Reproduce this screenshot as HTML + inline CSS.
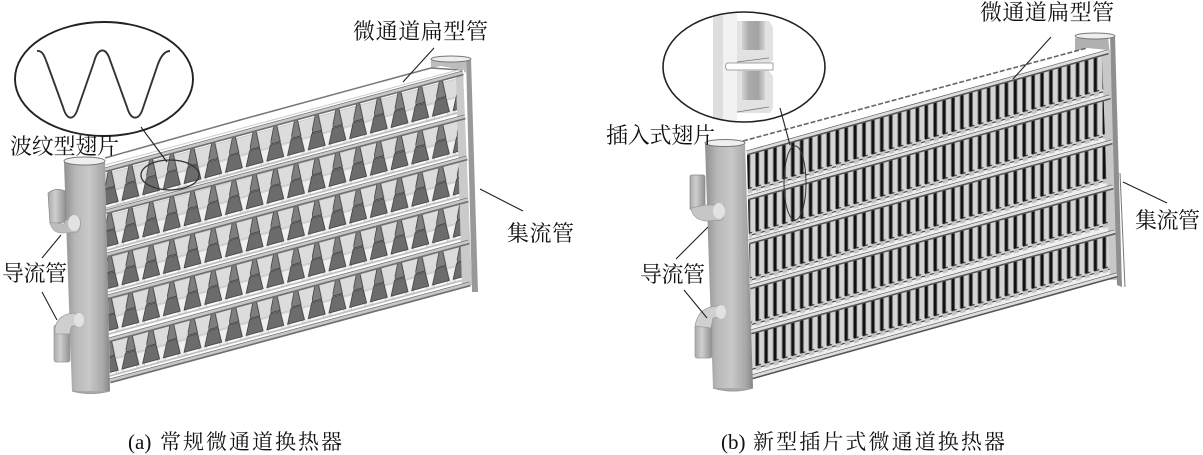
<!DOCTYPE html>
<html lang="zh"><head><meta charset="utf-8"><title>微通道换热器</title>
<style>html,body{margin:0;padding:0;background:#fff;width:1203px;height:455px;overflow:hidden}svg{display:block}text{font-family:"Liberation Serif","Noto Serif CJK SC",serif;fill:#111;font-size:22px}</style></head>
<body>
<svg width="1203" height="455" viewBox="0 0 1203 455" xmlns="http://www.w3.org/2000/svg">
<defs>
<linearGradient id="tube" x1="0" x2="1" y1="0" y2="0"><stop offset="0" stop-color="#8f8f8f"/><stop offset=".25" stop-color="#b8b8b8"/><stop offset=".55" stop-color="#c8c8c8"/><stop offset=".85" stop-color="#a8a8a8"/><stop offset="1" stop-color="#858585"/></linearGradient>
<linearGradient id="stub" x1="0" x2="1" y1="0" y2="0"><stop offset="0" stop-color="#aaa"/><stop offset=".4" stop-color="#cfcfcf"/><stop offset="1" stop-color="#8f8f8f"/></linearGradient>
<linearGradient id="grill" x1="0" x2="1" y1="0" y2="0"><stop offset="0" stop-color="#d4d4d4"/><stop offset=".3" stop-color="#aaa"/><stop offset=".7" stop-color="#a4a4a4"/><stop offset="1" stop-color="#d4d4d4"/></linearGradient>
<pattern id="finA" patternUnits="userSpaceOnUse" width="20.7" height="42.2" patternTransform="matrix(1,-.271,0,1,105,170)">
<rect width="20.7" height="42.2" fill="#fff"/>
<polygon points="5.5,4 24.500,4 21,22 9,22" fill="#dcdcdc" stroke="#999" stroke-width=".4"/>
<polygon points="9,23 21,23 18.500,39 11.500,39" fill="#efefef" stroke="#999" stroke-width=".4"/>
<polygon points="-15.2,4 3.8,4 .3,22 -11.700,22" fill="#dcdcdc" stroke="#999" stroke-width=".4"/>
<polygon points="-11.700,23 .3,23 -2.200,39 -9.200,39" fill="#efefef" stroke="#999" stroke-width=".4"/>
<polygon points="3.200,2 6.200,2 9.700,19 -.3,19" fill="#7e7e7e" stroke="#333" stroke-width=".7"/>
<polygon points="-.3,20 9.700,20 13.200,35 -3.800,35" fill="#6c6c6c" stroke="#333" stroke-width=".7"/>
<polygon points="20.400,20 30.400,20 33.900,35 16.900,35" fill="#6c6c6c" stroke="#333" stroke-width=".7"/>
<rect x="0" y="37.500" width="20.700" height="1.800" fill="#bdbdbd"/>
</pattern>
<pattern id="finB" patternUnits="userSpaceOnUse" width="8.9" height="44.8" patternTransform="matrix(1,-.28,0,1,747,153)">
<rect width="8.9" height="44.800" fill="#efefef"/>
<rect x="0" y="2" width="2.700" height="34" fill="#111"/>
<rect x="2.700" y="2" width=".8" height="35" fill="#666"/>
<rect x="3.500" y="2" width="4.500" height="36" fill="#d4d4d4"/>
<rect x="8" y="2" width=".9" height="34" fill="#777"/>
<rect x="0" y="36" width="5" height="5" fill="#c4c4c4"/>
<rect x="0" y="35.500" width="5" height="1" fill="#222"/>
<rect x="5" y="38" width="3.900" height="1" fill="#222"/>
</pattern>
<clipPath id="cb"><ellipse cx="744" cy="67" rx="81" ry="55"/></clipPath>
</defs>

<!-- (a) exchanger -->
<polygon points="431,58 466,58 466,72 431,82" fill="#bdbdbd"/>
<polygon points="106,160 440,66 464,70 464,73 106,170" fill="#fff"/>
<path d="M105,158L240,120L405,75L431,68L462,70" fill="none" stroke="#777" stroke-width="1.500"/>
<path d="M105,165L462,69" fill="none" stroke="#ccc" stroke-width="1"/>
<polygon points="105,170 463,73 470,284 110,381" fill="url(#finA)"/>
<polygon points="456,78 463,70 472,285 462,287" fill="#cacaca"/>
<polygon points="466,58 471,58 478,292 472,292" fill="#999"/>
<ellipse cx="451" cy="59" rx="20" ry="3" fill="#eee" stroke="#777"/>
<path d="M105,170L463,73M106,212L465,117M107,255L467,158M108,297L468,200M109,340L469,242M110,381L470,284" stroke="#707070" stroke-width="5" fill="none"/>
<path d="M105,169.500L463,72.500M106,211.500L465,116.500M107,254.500L467,157.500M108,296.500L468,199.500M109,339.500L469,241.500M110,380.500L470,283.500" stroke="#c8c8c8" stroke-width="2.600" fill="none"/>

<polygon points="64,162 105,162 110,391 72,391" fill="url(#tube)"/>
<path d="M72,391Q90,396 110,391" fill="#aaa" stroke="#999"/>
<ellipse cx="84.500" cy="161" rx="20.500" ry="4" fill="#efefef" stroke="#777"/>
<!-- a stubs -->
<path d="M48,193Q56,187 65,191L66,222L50,224Z" fill="url(#stub)" stroke="#888" stroke-width=".7"/>
<path d="M50,222Q52,234 64,233L78,232Q82,226 80,219L66,220L64,224Z" fill="#bdbdbd" stroke="#999" stroke-width=".6"/>
<ellipse cx="74" cy="223" rx="6" ry="8" fill="#e2e2e2"/>
<rect x="54" y="325" width="16" height="37" rx="2" fill="url(#stub)" stroke="#999" stroke-width=".7"/>
<path d="M55,328Q58,314 74,313L82,317L81,326L72,326Q70,330 70,334L55,334Z" fill="#cfcfcf" stroke="#999" stroke-width=".7"/>
<ellipse cx="79" cy="320" rx="5" ry="7" fill="#e2e2e2"/>

<!-- a callout -->
<ellipse cx="104" cy="79" rx="89" ry="57" fill="#fff" stroke="#222" stroke-width="1.900"/>
<path d="M37,51C43,50 45,58 47,63L63,107C67,121 74,121 78,108L94,62C98,47 106,47 110,60L127,107C131,121 139,121 143,108L158,64C161,56 165,51 170,51" fill="none" stroke="#333" stroke-width="1.900"/>
<ellipse cx="170" cy="175" rx="29" ry="15" fill="none" stroke="#333" stroke-width="1.300"/>
<g stroke="#222" stroke-width="1.100" fill="none">
<path d="M141,127L167,162M434,48L403,82M480,189L523,211M61,235L42,258M42,292L57,320"/>
</g>

<!-- (b) exchanger -->
<polygon points="1075,38 1108,36 1110,56 1075,64" fill="#b0b0b0"/>
<polygon points="745,142 1087,48 1108,50 1108,52 747,153" fill="#fff"/>
<path d="M743,141L1087,48" fill="none" stroke="#666" stroke-width="1.600" stroke-dasharray="5 2"/>
<polygon points="747,153 1108,52 1117,275 752,377" fill="url(#finB)"/>
<polygon points="1102,55 1110,50 1120,280 1110,280" fill="#c8c8c8"/>
<polygon points="1110,36 1115,36 1122,287 1117,285" fill="#8f8f8f"/>
<path d="M1120,173L1125,287" stroke="#777" stroke-width="1"/>
<ellipse cx="1095" cy="36" rx="20" ry="3" fill="#eee" stroke="#777"/>
<path d="M747,153L1108,52M748,198L1110,97M749,242L1112,142M750,287L1113,187M751,332L1115,232M752,377L1117,275" stroke="#555" stroke-width="5" fill="none"/>
<path d="M747,152.500L1108,51.500M748,197.500L1110,96.500M749,241.500L1112,141.500M750,286.500L1113,186.500M751,331.500L1115,231.500M752,376.500L1117,274.500" stroke="#ddd" stroke-width="2.800" fill="none"/>

<polygon points="705,143 745,143 753,388 713,388" fill="url(#tube)"/>
<path d="M713,388Q733,394 753,388" fill="#aaa" stroke="#999"/>
<ellipse cx="725" cy="143" rx="20" ry="3.500" fill="#efefef" stroke="#777"/>
<!-- b stubs -->
<rect x="690" y="175" width="15" height="35" rx="2" fill="url(#stub)" stroke="#888" stroke-width=".7"/>
<path d="M691,208Q693,220 706,221L722,220L724,205L705,205Z" fill="#c6c6c6" stroke="#999" stroke-width=".7"/>
<ellipse cx="719" cy="211" rx="6" ry="8" fill="#e2e2e2"/>
<rect x="695" y="325" width="17" height="33" rx="2" fill="url(#stub)" stroke="#999" stroke-width=".7"/>
<path d="M695,326Q698,309 712,307L722,305L724,316L713,318L711,328Z" fill="#d0d0d0" stroke="#999" stroke-width=".7"/>
<ellipse cx="721" cy="312" rx="5" ry="7" fill="#e2e2e2"/>

<!-- b callout -->
<ellipse cx="744" cy="67" rx="81" ry="55" fill="#fff"/>
<g clip-path="url(#cb)">
<rect x="713" y="10" width="10" height="115" fill="#dedede"/>
<rect x="723" y="10" width="14" height="115" fill="#f2f2f2"/>
<path d="M737,21H769L773,27V60L770,63H737Z" fill="#e2e2e2"/>
<path d="M737,70H768L773,76V108L770,113H737Z" fill="#e2e2e2"/>
<rect x="742" y="21" width="23" height="29" fill="url(#grill)"/>
<rect x="742" y="71" width="23" height="29" fill="url(#grill)"/>
<path d="M727,63H773V70H727Q724,66.500 727,63Z" fill="#fff" stroke="#888" stroke-width=".8"/>
<path d="M737,62L769,58M737,112L769,107" stroke="#777" stroke-width=".8"/>
</g>
<ellipse cx="744" cy="67" rx="81" ry="55" fill="none" stroke="#222" stroke-width="1.600"/>
<ellipse cx="795" cy="183" rx="11" ry="37" fill="none" stroke="#333" stroke-width="1"/>
<g stroke="#222" stroke-width="1.100" fill="none">
<path d="M780,108L790,145M1051,37L1013,79M1123,182L1167,203M708,227L676,259M684,290L707,318"/>
</g>

<!-- labels -->
<text x="353" y="39" textLength="135" lengthAdjust="spacing">微通道扁型管</text>
<text x="10" y="154" textLength="109" lengthAdjust="spacing">波纹型翅片</text>
<text x="2" y="281" textLength="65" lengthAdjust="spacing">导流管</text>
<text x="507" y="241" textLength="67" lengthAdjust="spacing">集流管</text>
<text x="980" y="20" textLength="134" lengthAdjust="spacing">微通道扁型管</text>
<text x="606" y="143" textLength="109" lengthAdjust="spacing">插入式翅片</text>
<text x="640" y="282" textLength="65" lengthAdjust="spacing">导流管</text>
<text x="1135" y="228" textLength="65" lengthAdjust="spacing">集流管</text>
<text x="128" y="449" style="font-size:21px">(a)</text>
<text x="160" y="449" textLength="182" lengthAdjust="spacing" style="font-size:21px">常规微通道换热器</text>
<text x="721" y="449" style="font-size:21px">(b)</text>
<text x="753" y="449" textLength="252" lengthAdjust="spacing" style="font-size:21px">新型插片式微通道换热器</text>
</svg>
</body></html>
